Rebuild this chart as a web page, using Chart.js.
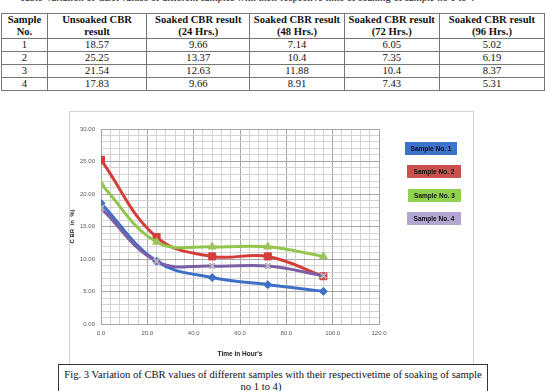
<!DOCTYPE html>
<html>
<head>
<meta charset="utf-8">
<script src="https://cdn.jsdelivr.net/npm/chart.js@4/dist/chart.umd.min.js"></script>
<style>
  html, body { margin:0; padding:0; background:#fff; }
  body { width:545px; height:391px; position:relative; overflow:hidden; font-family:"Liberation Serif", serif; color:#111; }
  #intro { position:absolute; left:3px; top:-8px; font-size:10.5px; line-height:12px; white-space:nowrap; }
  #intro .arr { font-family:"DejaVu Sans"; font-size:9px; margin-right:9px; }
  table { position:absolute; left:1px; top:13px; border-collapse:collapse; font-size:10.6px; }
  td, th { border:1px solid #777; padding:0; text-align:center; line-height:12px; }
  th { font-weight:bold; height:24px; }
  td { height:11.7px; }
  #chartbox { position:absolute; left:69px; top:111px; width:403px; height:270px; border:1px solid #d4d4d4; }
  #wrap { position:absolute; left:69px; top:111px; width:404px; height:252px; }
  #caption { position:absolute; left:58px; top:364px; width:428px; height:40px; border:1px solid #333; background:#fff; font-size:10.6px; line-height:12px; text-align:center; padding-top:4px; }
  #caption .l2 { position:relative; left:-12px; }
</style>
</head>
<body>
<div id="intro"><span class="arr">&#x27A2;</span>Table Variation of CBR values of different samples with their respective time of soaking of sample no 1 to 4</div>
<table id="tbl"></table>
<div id="chartbox"></div>
<div id="wrap"><canvas id="c"></canvas></div>
<div id="caption">Fig. 3 Variation of CBR values of different samples with their respectivetime of soaking of sample<br><span class="l2">no 1 to 4)</span></div>
<script>
// ---- table data ----
const tableHeaders = ["Sample<br>No.", "Unsoaked CBR<br>result", "Soaked CBR result<br>(24 Hrs.)", "Soaked CBR result<br>(48 Hrs.)", "Soaked CBR result<br>(72 Hrs.)", "Soaked CBR result<br>(96 Hrs.)"];
const sampleNos = ["1", "2", "3", "4"];
const unsoaked = ["18.57", "25.25", "21.54", "17.83"];
const soaked24 = ["9.66", "13.37", "12.63", "9.66"];
const soaked48 = ["7.14", "10.4", "11.88", "8.91"];
const soaked72 = ["6.05", "7.35", "10.4", "7.43"];
const soaked96 = ["5.02", "6.19", "8.37", "5.31"];

// ---- chart data (as plotted) ----
const times = [0, 24, 48, 72, 96];
const seriesNames = ["Sample No. 1", "Sample No. 2", "Sample No. 3", "Sample No. 4"];
const sample1 = [18.57, 9.66, 7.14, 6.05, 5.02];
const sample2 = [25.25, 13.37, 10.4, 10.4, 7.35];
const sample3 = [21.54, 12.63, 11.88, 11.88, 10.4];
const sample4 = [17.83, 9.66, 8.91, 8.91, 7.43];
const xTitle = "Time in Hour's";
const yTitle = "C BR  in  %)";

// build table
const colW = [45, 99, 103, 94, 95, 105];
const tbl = document.getElementById('tbl');
let html = '<tr>' + tableHeaders.map((h,i)=>'<th style="width:'+colW[i]+'px">'+h+'</th>').join('') + '</tr>';
for (let r = 0; r < sampleNos.length; r++) {
  html += '<tr>' + [sampleNos[r], unsoaked[r], soaked24[r], soaked48[r], soaked72[r], soaked96[r]].map(v=>'<td>'+v+'</td>').join('') + '</tr>';
}
tbl.innerHTML = html;

const lineColors = ['#3f6fc6', '#d33d3a', '#93c54b', '#7d5fa6'];
const markerColors = ['#3f6fc6', '#d33d3a', '#9cc45e', '#b9b2c2'];
const markerStyles = ['rectRot', 'rect', 'triangle', 'crossRot'];
const markerSizes = [4, 5, 4.5, 4];
const legendColors = ['#3d73c8', '#c9504f', '#92d050', '#b3a6d3'];
const allSeries = [sample1, sample2, sample3, sample4];

const datasets = allSeries.map((s, i) => ({
  label: seriesNames[i],
  data: times.map((t, j) => ({x: t, y: s[j]})),
  borderColor: lineColors[i],
  backgroundColor: markerColors[i],
  pointBorderColor: markerColors[i],
  pointBackgroundColor: markerColors[i],
  pointStyle: markerStyles[i],
  pointRadius: markerSizes[i],
  pointBorderWidth: i === 3 ? 2 : 1,
  borderWidth: 3,
  tension: 0.4,
  order: 4 - i,
  fill: false
}));

const legendBoxes = {
  id: 'legendBoxes',
  afterDraw(chart) {
    const ctx = chart.ctx;
    const xs = [336, 338, 339, 338];
    const ws = [52, 54, 53, 54];
    const ys = [31, 54, 78, 101];
    ctx.save();
    chart.data.datasets.forEach((d, i) => {
      ctx.fillStyle = legendColors[i];
      ctx.fillRect(xs[i], ys[i], ws[i], 13);
      ctx.fillStyle = '#111';
      ctx.font = 'bold 6.5px "Liberation Sans"';
      ctx.textAlign = 'center';
      ctx.textBaseline = 'middle';
      ctx.fillText(d.label, xs[i] + ws[i] / 2, ys[i] + 6.8);
    });
    ctx.restore();
  }
};

new Chart(document.getElementById('c'), {
  type: 'line',
  data: { datasets },
  plugins: [legendBoxes],
  options: {
    responsive: true,
    maintainAspectRatio: false,
    devicePixelRatio: 1,
    animation: false,
    layout: { padding: { left: 0, right: 94, top: 18, bottom: 0 } },
    plugins: { legend: { display: false }, tooltip: { enabled: false } },
    scales: {
      x: {
        type: 'linear', min: 0, max: 120,
        afterFit(s) { s.height = 39; },
        ticks: {
          stepSize: 4, autoSkip: false, maxRotation: 0, padding: 6,
          color: '#595959', font: { family: 'Liberation Sans', size: 6 },
          callback: v => (v % 20 === 0 ? v.toFixed(1) : '')
        },
        grid: {
          drawTicks: false,
          color: c => (c.tick && c.tick.value % 20 === 0 ? '#a6a6a6' : '#d3d3d3'),
          lineWidth: 1
        },
        border: { display: true, color: '#a6a6a6' },
        title: { display: true, text: xTitle, color: '#222', font: { family: 'Liberation Sans', size: 6.5, weight: 'bold' }, padding: { top: 0, bottom: 5 } }
      },
      y: {
        min: 0, max: 30,
        afterFit(s) { s.width = 32; },
        ticks: {
          stepSize: 1, autoSkip: false, padding: 6,
          color: '#595959', font: { family: 'Liberation Sans', size: 6 },
          callback: v => (v % 5 === 0 ? v.toFixed(2) : '')
        },
        grid: {
          drawTicks: false,
          color: c => (c.tick && c.tick.value % 5 === 0 ? '#a6a6a6' : '#d3d3d3'),
          lineWidth: 1
        },
        border: { display: true, color: '#a6a6a6' },
        title: { display: true, text: yTitle, color: '#222', font: { family: 'Liberation Sans', size: 6, weight: 'bold' }, padding: { top: 0, bottom: 0 } }
      }
    }
  }
});
</script>
</body>
</html>
